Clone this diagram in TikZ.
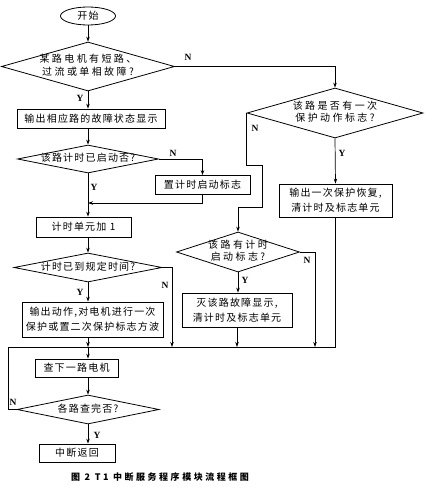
\documentclass[tikz,border=0pt]{standalone}
\usepackage{fontspec}
\setmainfont{Noto Sans CJK SC}[LetterSpace=12]
\newfontfamily\widecjk{Noto Sans CJK SC}[LetterSpace=24]
\newfontfamily\capfont{Noto Sans CJK SC}[LetterSpace=28]
\newfontfamily\ynfont{Liberation Serif}
\usetikzlibrary{shapes.geometric,arrows.meta}
% text inside a diamond, the shape size is given by min width/height only
\newcommand{\dtext}[1]{\makebox[0pt]{\begin{tabular}{@{}c@{}}#1\end{tabular}}}

\begin{document}
\begin{tikzpicture}[x=1pt,y=-1pt,
  box/.style={draw,line width=0.8pt,rectangle,inner sep=1pt,align=center,font=\fontsize{10}{15}\selectfont},
  decision/.style={draw,line width=0.8pt,diamond,inner sep=0pt,font=\fontsize{10}{12.5}\selectfont},
  yn/.style={font=\ynfont\bfseries\fontsize{9.5}{10}\selectfont,inner sep=0pt},
  arr/.style={line width=0.7pt,-{Stealth[length=5pt,width=3.5pt]}},
  line/.style={line width=0.7pt}]
\useasboundingbox (0,0) rectangle (430,487);

% main column
\node[draw,ellipse,line width=0.8pt,minimum width=55pt,minimum height=18pt,inner sep=0pt] (start) at (88,16) {开始};
\node[decision,minimum width=173pt,minimum height=49pt] (d1) at (88,66.5) {\widecjk\dtext{某路电机有短路、\\过流或单相故障?}};
\node[box,minimum width=148pt,minimum height=19pt] (b2) at (91,118.5) {输出相应路的故障状态显示};
\node[decision,minimum width=141pt,minimum height=28pt] (d3) at (88,159) {\dtext{该路计时已启动否?}};
\node[box,minimum width=95pt,minimum height=19pt] (b3s) at (202.5,185) {置计时启动标志};
\node[box,minimum width=95pt,minimum height=20pt] (b4) at (83.5,227) {计时单元加 1};
\node[decision,minimum width=148pt,minimum height=29pt] (d5) at (88,267.5) {\dtext{计时已到规定时间?}};
\node[box,minimum width=141pt,minimum height=35pt] (b6) at (92.5,319.5) {输出动作,对电机进行一次\\保护或置二次保护标志方波};
\node[box,minimum width=83pt,minimum height=18pt] (b7) at (76.5,368) {查下一路电机};
\node[decision,minimum width=142pt,minimum height=29pt] (d8) at (88,409.5) {\dtext{各路查完否?}};
\node[box,minimum width=76pt,minimum height=18pt] (b9) at (77,453) {中断返回};

% right columns
\node[decision,minimum width=176pt,minimum height=50pt] (d2) at (335,113) {\widecjk\dtext{该路是否有一次\\保护动作标志?}};
\node[box,minimum width=113pt,minimum height=33pt] (b3r) at (335.5,200.5) {输出一次保护恢复,\\清计时及标志单元};
\node[decision,minimum width=123pt,minimum height=40pt] (d4) at (238,252) {\widecjk\dtext{该路有计时\\启动标志?}};
\node[box,minimum width=110pt,minimum height=34pt] (b5) at (237,310) {灭该路故障显示,\\清计时及标志单元};

% junctions
\coordinate (bus) at (0,347);
\coordinate (busL) at (8,347);
\coordinate (j1) at (88,203);
\coordinate (j2) at (88,347);
\coordinate (m1) at (172,347);
\coordinate (m3) at (315,347);

% Y / N labels
\node[yn] (n1) at (188,57) {N};
\node[yn] (y1) at (80,98) {Y};
\node[yn] (n3) at (173,153) {N};
\node[yn] (y3) at (94,187) {Y};
\node[yn] (n5) at (165,285) {N};
\node[yn] (y5) at (80,292) {Y};
\node[yn] (n8) at (13,402) {N};
\node[yn] (y8) at (97,435) {Y};
\node[yn] (n2) at (255,128) {N};
\node[yn] (y2) at (342,153) {Y};
\node[yn] (n4) at (307,260) {N};
\node[yn] (y4) at (245,280) {Y};

% main flow
\draw[arr] (start) -- (d1);
\draw[arr] (d1.south) -- (d1.south |- b2.north);
\draw[arr] (b2.south -| d3.north) -- (d3.north);
\draw[arr] (d3.east) -| (b3s.north);
\draw[arr] (b3s.south) |- (j1);
\draw[arr] (d3.south) -- (d3.south |- b4.north);
\draw[arr] (b4.south -| d5.north) -- (d5.north);
\draw[arr] (d5.east) -| (m1);
\draw[arr] (d5.south) -- (d5.south |- b6.north);
\draw[arr] (b6.south -| j2) -- (j2);
\draw[arr] (j2) -- (j2 |- b7.north);
\draw[arr] (b7.south -| d8.north) -- (d8.north);
\draw[arr] (d8.south) -- (d8.south |- b9.north);

% return loop and collecting line
\draw[line] (d8.west) -| (busL) -- (j2);
\draw[line] (busL) -- (b3r.south |- bus);

% right branches
\draw[arr] (d1.east) -| (d2.north);
\draw[arr] (d2.south) -- (b3r.north);
\draw[line] (b3r.south) -- (b3r.south |- bus);
\draw[arr] (d2.west) -- (d2.west |- 0,165) -- (262,165) -- (262,207) -- (d4.north |- 0,207) -- (d4.north);
\draw[arr] (d4.east) -| (m3);
\draw[arr] (d4.south) -- (d4.south |- b5.north);
\draw[arr] (b5.south) -- (b5.south |- bus);

% caption
\node[font=\capfont\bfseries\fontsize{9}{11}\selectfont] (cap) at (160,477) {图 2 T1 中断服务程序模块流程框图};
\end{tikzpicture}
\end{document}
